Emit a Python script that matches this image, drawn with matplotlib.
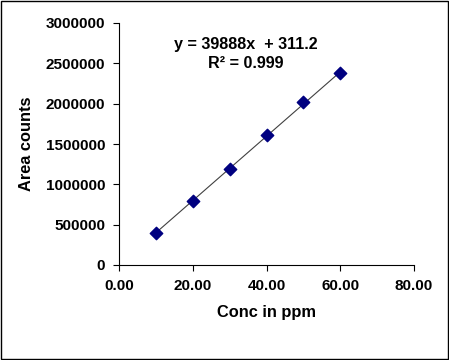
import numpy as np
import matplotlib
matplotlib.use("Agg")
import matplotlib.pyplot as plt
from matplotlib.patches import Rectangle

# data
conc = [10, 20, 30, 40, 50, 60]
area = [393000, 793000, 1186000, 1608000, 2017000, 2376000]
slope, intercept = 39888, 311.2

plt.rcParams["font.family"] = ["Liberation Sans", "DejaVu Sans"]
plt.rcParams["font.weight"] = "bold"

fig = plt.figure(figsize=(4.49, 3.60), dpi=100)
ax = fig.add_axes([119 / 449, 1 - 265 / 360, 295 / 449, 242 / 360])

xfit = np.array([conc[0], conc[-1]])
ax.plot(xfit, slope * xfit + intercept, color="#404040", lw=0.8, zorder=2)
ax.scatter(conc, area, marker="D", s=40, color="#000080", zorder=3)

ax.set_xlim(0, 80)
ax.set_ylim(0, 3000000)
ax.set_xticks([0, 20, 40, 60, 80])
ax.set_xticklabels([f"{v:.2f}" for v in [0, 20, 40, 60, 80]])
ax.set_yticks(np.arange(0, 3000001, 500000))
ax.set_yticklabels([str(int(v)) for v in np.arange(0, 3000001, 500000)])
ax.tick_params(direction="out", length=4, width=0.8, labelsize=11)
ax.tick_params(axis="y", pad=6)
ax.tick_params(axis="x", pad=6)
for s in ["top", "right"]:
    ax.spines[s].set_visible(False)
for s in ["left", "bottom"]:
    ax.spines[s].set_linewidth(0.8)

ax.set_xlabel("Conc in ppm", fontsize=11.8, fontweight="bold", labelpad=9)
ax.set_ylabel("Area counts", fontsize=11.8, fontweight="bold", labelpad=8)

fig.text(246 / 449, 1 - 45 / 360, "y = 39888x  + 311.2", ha="center", va="center",
         fontsize=11.6, fontweight="bold")
fig.text(246 / 449, 1 - 64 / 360, "R² = 0.999", ha="center", va="center",
         fontsize=11.6, fontweight="bold")

fig.patches.append(Rectangle((0.5 / 449, 1.0 / 360), 447.5 / 449, 358 / 360,
                             transform=fig.transFigure, fill=False,
                             edgecolor="black", lw=1))

fig.savefig("out.png", dpi=100)
